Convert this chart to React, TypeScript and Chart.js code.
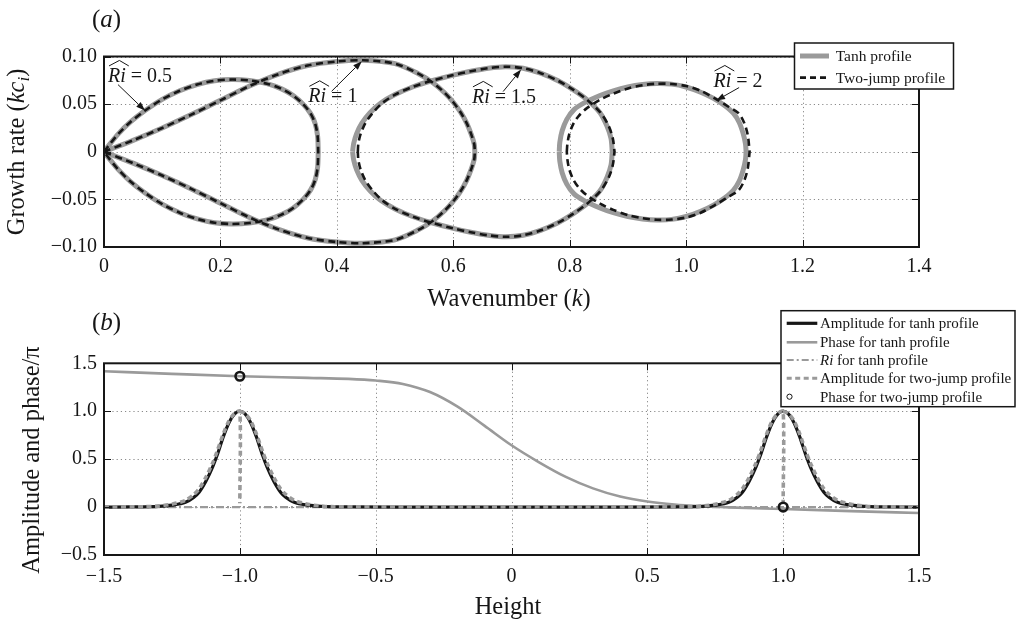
import React, { useEffect, useRef } from "react";
import { Chart, registerables } from "chart.js";

Chart.register(...registerables);

const SERIF = "'Liberation Serif', 'Times New Roman', 'DejaVu Serif', serif";
const GRAY = "#9a9a9a";
const INK = "#161616";

// ---------------- Panel (a): growth rate vs wavenumber ----------------
const kTicks = [0, 0.2, 0.4, 0.6, 0.8, 1.0, 1.2, 1.4];
const kTickLabels = ["0", "0.2", "0.4", "0.6", "0.8", "1.0", "1.2", "1.4"];
const growthTicks = [-0.1, -0.05, 0, 0.05, 0.1];
const growthTickLabels = ["\u22120.10", "\u22120.05", "0", "0.05", "0.10"];

// Ri = 0.5 (tanh and two-jump coincide)
const ri05K = [0, 0.01, 0.025, 0.045, 0.07, 0.1, 0.13, 0.16, 0.19, 0.22, 0.25, 0.28, 0.305, 0.325, 0.342, 0.355, 0.363, 0.367, 0.368];
const ri05Up = [0, 0.008, 0.019, 0.031, 0.043, 0.055, 0.064, 0.0705, 0.0745, 0.0758, 0.0748, 0.0715, 0.066, 0.059, 0.05, 0.04, 0.029, 0.016, 0];
const ri05Down = [0, -0.008, -0.019, -0.031, -0.043, -0.055, -0.064, -0.0705, -0.0745, -0.0758, -0.0748, -0.0715, -0.066, -0.059, -0.05, -0.04, -0.029, -0.016, 0];

// Ri = 1 (tanh and two-jump coincide)
const ri1K = [0, 0.05, 0.1, 0.15, 0.2, 0.25, 0.3, 0.35, 0.4, 0.445, 0.5, 0.54, 0.565, 0.585, 0.6, 0.613, 0.623, 0.631, 0.636, 0.637];
const ri1Up = [0, 0.012, 0.025, 0.039, 0.054, 0.069, 0.0815, 0.0905, 0.0948, 0.096, 0.0925, 0.082, 0.0725, 0.062, 0.052, 0.041, 0.03, 0.018, 0.008, 0];
const ri1Down = [0, -0.012, -0.025, -0.039, -0.054, -0.069, -0.0815, -0.0905, -0.0948, -0.096, -0.0925, -0.082, -0.0725, -0.062, -0.052, -0.041, -0.03, -0.018, -0.008, 0];

// Ri = 1.5
const ri15TanhK = [0.427, 0.429, 0.434, 0.443, 0.457, 0.475, 0.5, 0.53, 0.56, 0.6, 0.63, 0.66, 0.69, 0.72, 0.75, 0.78, 0.805, 0.83, 0.852, 0.864, 0.871, 0.873];
const ri15JumpK = [0.436, 0.437, 0.441, 0.449, 0.462, 0.478, 0.5, 0.53, 0.56, 0.6, 0.63, 0.66, 0.69, 0.72, 0.75, 0.78, 0.805, 0.83, 0.853, 0.867, 0.874, 0.877];
const ri15Up = [0, 0.009, 0.019, 0.03, 0.041, 0.051, 0.06, 0.068, 0.074, 0.0805, 0.0845, 0.0877, 0.0893, 0.0877, 0.0825, 0.0745, 0.0655, 0.0545, 0.041, 0.027, 0.014, 0];
const ri15Down = [0, -0.009, -0.019, -0.03, -0.041, -0.051, -0.06, -0.068, -0.074, -0.0805, -0.0845, -0.0877, -0.0893, -0.0877, -0.0825, -0.0745, -0.0655, -0.0545, -0.041, -0.027, -0.014, 0];

// Ri = 2
const ri2TanhK = [0.782, 0.783, 0.787, 0.795, 0.807, 0.824, 0.852, 0.875, 0.9, 0.925, 0.95, 0.975, 1.0, 1.025, 1.047, 1.066, 1.081, 1.091, 1.098, 1.102, 1.103];
const ri2TanhUp = [0, 0.01, 0.022, 0.034, 0.044, 0.051, 0.059, 0.064, 0.068, 0.0705, 0.0716, 0.071, 0.068, 0.0625, 0.056, 0.0485, 0.0405, 0.031, 0.019, 0.008, 0];
const ri2TanhDown = [0, -0.01, -0.022, -0.034, -0.044, -0.051, -0.059, -0.064, -0.068, -0.0705, -0.0716, -0.071, -0.068, -0.0625, -0.056, -0.0485, -0.0405, -0.031, -0.019, -0.008, 0];
const ri2JumpK = [0.795, 0.796, 0.799, 0.806, 0.816, 0.829, 0.852, 0.875, 0.9, 0.925, 0.95, 0.975, 1.0, 1.025, 1.053, 1.072, 1.09, 1.1, 1.106, 1.109];
const ri2JumpUp = [0, 0.008, 0.018, 0.029, 0.038, 0.0455, 0.0545, 0.061, 0.0665, 0.0698, 0.0714, 0.0712, 0.069, 0.064, 0.0547, 0.0475, 0.0405, 0.03, 0.017, 0];
const ri2JumpDown = [0, -0.008, -0.018, -0.029, -0.038, -0.0455, -0.0545, -0.061, -0.0665, -0.0698, -0.0714, -0.0712, -0.069, -0.064, -0.0547, -0.0475, -0.0405, -0.03, -0.017, 0];

// annotation labels (data coordinates)
const riLabels = ["0.5", "1", "1.5", "2"];
const riLabelAnchors = [[0.0069, 0.0733], [0.351, 0.0519], [0.632, 0.0513], [1.047, 0.068]];
const riArrowTails = [[0.024, 0.0705], [0.391, 0.0635], [0.6856, 0.0632], [1.091, 0.0674]];
const riArrowTips = [[0.0704, 0.0432], [0.443, 0.0951], [0.7165, 0.0863], [1.0515, 0.0537]];

// ---------------- Panel (b): amplitude and phase vs height ----------------
const hTicks = [-1.5, -1.0, -0.5, 0, 0.5, 1.0, 1.5];
const hTickLabels = ["\u22121.5", "\u22121.0", "\u22120.5", "0", "0.5", "1.0", "1.5"];
const apTicks = [-0.5, 0, 0.5, 1.0, 1.5];
const apTickLabels = ["\u22120.5", "0", "0.5", "1.0", "1.5"];

const ampTanhH = [-1.5, -1.4, -1.3, -1.25, -1.2, -1.17, -1.15, -1.125, -1.1, -1.085, -1.06, -1.04, -1.02, -1.0, -0.98, -0.96, -0.94, -0.915, -0.9, -0.875, -0.85, -0.83, -0.8, -0.75, -0.7, -0.6, -0.4, -0.2, 0, 0.2, 0.4, 0.6, 0.7, 0.75, 0.8, 0.83, 0.85, 0.875, 0.9, 0.915, 0.94, 0.96, 0.98, 1.0, 1.02, 1.04, 1.06, 1.085, 1.1, 1.125, 1.15, 1.17, 1.2, 1.25, 1.3, 1.4, 1.5];
const ampTanh = [0, 0.002, 0.008, 0.02, 0.05, 0.1, 0.155, 0.27, 0.42, 0.53, 0.74, 0.88, 0.97, 1.0, 0.97, 0.88, 0.74, 0.53, 0.42, 0.27, 0.155, 0.1, 0.05, 0.02, 0.008, 0.002, 0, 0, 0, 0, 0, 0.002, 0.008, 0.02, 0.05, 0.1, 0.155, 0.27, 0.42, 0.53, 0.74, 0.88, 0.97, 1.0, 0.97, 0.88, 0.74, 0.53, 0.42, 0.27, 0.155, 0.1, 0.05, 0.02, 0.008, 0.002, 0];

const phaseTanhH = [-1.5, -1.25, -1.0, -0.75, -0.6, -0.5, -0.4, -0.3, -0.2, -0.1, 0, 0.1, 0.2, 0.3, 0.4, 0.5, 0.6, 0.7, 0.8, 1.0, 1.25, 1.5];
const phaseTanh = [1.417, 1.39, 1.365, 1.348, 1.337, 1.32, 1.285, 1.2, 1.05, 0.85, 0.645, 0.47, 0.315, 0.195, 0.11, 0.058, 0.027, 0.009, -0.003, -0.02, -0.042, -0.062];

const riTanhH = [-1.5, -1.0, -0.5, 0, 0.5, 1.0, 1.5];
const riTanh = [0, 0, 0, 0, 0, 0, 0];

// null marks the break after each vertical jump
const ampJumpH = [-1.5, -1.35, -1.3, -1.25, -1.2, -1.17, -1.15, -1.125, -1.1, -1.085, -1.06, -1.04, -1.02, -1.0, -1.0, -1.0, -1.0, -0.98, -0.96, -0.94, -0.915, -0.9, -0.875, -0.85, -0.83, -0.8, -0.75, -0.7, -0.65, 0.65, 0.7, 0.75, 0.8, 0.83, 0.85, 0.875, 0.9, 0.915, 0.94, 0.96, 0.98, 1.0, 1.0, 1.0, 1.0, 1.02, 1.04, 1.06, 1.085, 1.1, 1.125, 1.15, 1.17, 1.2, 1.25, 1.3, 1.35, 1.5];
const ampJump = [0, 0.004, 0.01, 0.03, 0.07, 0.13, 0.19, 0.31, 0.46, 0.57, 0.77, 0.9, 0.975, 1.0, 0.04, null, 1.0, 0.975, 0.9, 0.77, 0.57, 0.46, 0.31, 0.19, 0.13, 0.07, 0.03, 0.01, 0.004, 0.004, 0.01, 0.03, 0.07, 0.13, 0.19, 0.31, 0.46, 0.57, 0.77, 0.9, 0.975, 1.0, 0.04, null, 1.0, 0.975, 0.9, 0.77, 0.57, 0.46, 0.31, 0.19, 0.13, 0.07, 0.03, 0.01, 0.004, 0];

const phaseJumpH = [-1.0, 1.0];
const phaseJump = [1.365, 0];

// ---------------- helpers ----------------
type Part = { t: string; it?: boolean; sz: number; dy?: number };

function setFont(ctx: CanvasRenderingContext2D, p: Part) {
  ctx.font = `${p.it ? "italic " : ""}${p.sz}px ${SERIF}`;
}
function measureParts(ctx: CanvasRenderingContext2D, parts: Part[]) {
  let w = 0;
  for (const p of parts) {
    setFont(ctx, p);
    w += ctx.measureText(p.t).width;
  }
  return w;
}
function drawParts(ctx: CanvasRenderingContext2D, parts: Part[], x: number, y: number, align: "left" | "center" = "left") {
  let cx = align === "center" ? x - measureParts(ctx, parts) / 2 : x;
  ctx.textAlign = "left";
  ctx.textBaseline = "alphabetic";
  ctx.fillStyle = INK;
  for (const p of parts) {
    setFont(ctx, p);
    ctx.fillText(p.t, cx, y + (p.dy ?? 0));
    cx += ctx.measureText(p.t).width;
  }
}
function seg(ctx: CanvasRenderingContext2D, x1: number, y1: number, x2: number, y2: number) {
  ctx.beginPath();
  ctx.moveTo(x1, y1);
  ctx.lineTo(x2, y2);
  ctx.stroke();
}
function zip(xs: number[], ys: (number | null)[]) {
  return xs.map((x, i) => ({ x, y: ys[i] }));
}
function loop(k: number[], up: number[], down: number[]) {
  const pts = k.map((x, i) => ({ x, y: up[i] }));
  for (let i = k.length - 1; i >= 0; i--) pts.push({ x: k[i], y: down[i] });
  return pts;
}

function gridPlugin() {
  return {
    id: "dottedGrid",
    beforeDatasetsDraw(chart: any) {
      const { ctx, chartArea: a, scales } = chart;
      ctx.save();
      ctx.strokeStyle = "#8a8a8a";
      ctx.lineWidth = 1;
      ctx.setLineDash([1.2, 3]);
      for (const t of scales.x.ticks) {
        const px = Math.round(scales.x.getPixelForValue(t.value)) + 0.5;
        seg(ctx, px, a.top, px, a.bottom);
      }
      for (const t of scales.y.ticks) {
        const py = Math.round(scales.y.getPixelForValue(t.value)) + 0.5;
        seg(ctx, a.left, py, a.right, py);
      }
      ctx.restore();
    },
  };
}

function drawFrame(chart: any) {
  const { ctx, chartArea: a, scales } = chart;
  ctx.save();
  ctx.setLineDash([]);
  ctx.strokeStyle = INK;
  ctx.lineWidth = 1;
  const L = 7;
  for (const t of scales.x.ticks) {
    const px = Math.round(scales.x.getPixelForValue(t.value)) + 0.5;
    seg(ctx, px, a.bottom, px, a.bottom - L);
    seg(ctx, px, a.top, px, a.top + L);
  }
  for (const t of scales.y.ticks) {
    const py = Math.round(scales.y.getPixelForValue(t.value)) + 0.5;
    seg(ctx, a.left, py, a.left + L, py);
    seg(ctx, a.right, py, a.right - L, py);
  }
  ctx.lineWidth = 2;
  ctx.strokeRect(a.left, a.top, a.right - a.left, a.bottom - a.top);
  ctx.restore();
}

function arrow(ctx: CanvasRenderingContext2D, x1: number, y1: number, x2: number, y2: number) {
  ctx.save();
  ctx.strokeStyle = INK;
  ctx.fillStyle = INK;
  ctx.lineWidth = 1;
  const ang = Math.atan2(y2 - y1, x2 - x1);
  const hl = 9;
  const hw = 3.2;
  const bx = x2 - hl * Math.cos(ang);
  const by = y2 - hl * Math.sin(ang);
  seg(ctx, x1, y1, bx, by);
  ctx.beginPath();
  ctx.moveTo(x2, y2);
  ctx.lineTo(bx + hw * Math.sin(ang), by - hw * Math.cos(ang));
  ctx.lineTo(bx - hw * Math.sin(ang), by + hw * Math.cos(ang));
  ctx.closePath();
  ctx.fill();
  ctx.restore();
}

function drawRiLabel(ctx: CanvasRenderingContext2D, x: number, y: number, val: string) {
  const sz = 20;
  const riPart: Part = { t: "Ri", it: true, sz };
  drawParts(ctx, [riPart, { t: " = " + val, sz }], x, y);
  const w = measureParts(ctx, [riPart]);
  ctx.save();
  ctx.strokeStyle = INK;
  ctx.lineWidth = 1;
  ctx.beginPath();
  ctx.moveTo(x + 1, y - 16);
  ctx.lineTo(x + w / 2 + 2.5, y - 21.5);
  ctx.lineTo(x + w + 3, y - 16);
  ctx.stroke();
  ctx.restore();
}

function legendBox(ctx: CanvasRenderingContext2D, x1: number, y1: number, x2: number, y2: number) {
  ctx.save();
  ctx.fillStyle = "#ffffff";
  ctx.fillRect(x1, y1, x2 - x1, y2 - y1);
  ctx.strokeStyle = INK;
  ctx.lineWidth = 1.5;
  ctx.setLineDash([]);
  ctx.strokeRect(x1, y1, x2 - x1, y2 - y1);
  ctx.restore();
}

function sampleLine(ctx: CanvasRenderingContext2D, x1: number, x2: number, y: number, color: string, width: number, dash: number[]) {
  ctx.save();
  ctx.strokeStyle = color;
  ctx.lineWidth = width;
  ctx.setLineDash(dash);
  ctx.lineCap = "butt";
  seg(ctx, x1, y, x2, y);
  ctx.restore();
}

const decorA = {
  id: "decorA",
  afterDatasetsDraw(chart: any) {
    const { ctx, scales } = chart;
    drawFrame(chart);
    const X = (v: number) => scales.x.getPixelForValue(v);
    const Y = (v: number) => scales.y.getPixelForValue(v);
    riLabels.forEach((lab, i) => {
      drawRiLabel(ctx, X(riLabelAnchors[i][0]), Y(riLabelAnchors[i][1]), lab);
      arrow(ctx, X(riArrowTails[i][0]), Y(riArrowTails[i][1]), X(riArrowTips[i][0]), Y(riArrowTips[i][1]));
    });
    drawParts(ctx, [{ t: "(", sz: 25 }, { t: "a", it: true, sz: 25 }, { t: ")", sz: 25 }], 92, 27);
    drawParts(ctx, [{ t: "Wavenumber (", sz: 24.5 }, { t: "k", it: true, sz: 24.5 }, { t: ")", sz: 24.5 }], 509, 306, "center");
    ctx.save();
    ctx.translate(24, 152);
    ctx.rotate(-Math.PI / 2);
    drawParts(
      ctx,
      [
        { t: "Growth rate (", sz: 24.5 },
        { t: "kc", it: true, sz: 24.5 },
        { t: "i", it: true, sz: 17, dy: 5 },
        { t: ")", sz: 24.5 },
      ],
      0,
      0,
      "center"
    );
    ctx.restore();
    legendBox(ctx, 794.5, 43, 953.5, 89);
    sampleLine(ctx, 800, 829, 56, GRAY, 5, []);
    sampleLine(ctx, 800, 829, 77.6, INK, 2.6, [6, 4]);
    drawParts(ctx, [{ t: "Tanh profile", sz: 15.5 }], 835.7, 61.2);
    drawParts(ctx, [{ t: "Two-jump profile", sz: 15.5 }], 835.7, 82.8);
  },
};

const decorB = {
  id: "decorB",
  afterDatasetsDraw(chart: any) {
    const { ctx } = chart;
    drawFrame(chart);
    drawParts(ctx, [{ t: "(", sz: 25 }, { t: "b", it: true, sz: 25 }, { t: ")", sz: 25 }], 92, 30);
    drawParts(ctx, [{ t: "Height", sz: 24.5 }], 508, 314, "center");
    ctx.save();
    ctx.translate(39, 160);
    ctx.rotate(-Math.PI / 2);
    drawParts(ctx, [{ t: "Amplitude and phase/\u03c0", sz: 24.5 }], 0, 0, "center");
    ctx.restore();
    legendBox(ctx, 781, 10.7, 1015, 106.7);
    const rows = [23.3, 42.3, 60, 78.3, 96.7];
    sampleLine(ctx, 786.7, 817.3, rows[0], INK, 3.2, []);
    sampleLine(ctx, 786.7, 817.3, rows[1], GRAY, 2.6, []);
    sampleLine(ctx, 786.7, 817.3, rows[2], GRAY, 2, [7, 3, 2, 3]);
    sampleLine(ctx, 786.7, 817.3, rows[3], GRAY, 3, [5, 3.5]);
    ctx.save();
    ctx.strokeStyle = INK;
    ctx.lineWidth = 1;
    ctx.beginPath();
    ctx.arc(789.5, rows[4], 2.6, 0, Math.PI * 2);
    ctx.stroke();
    ctx.restore();
    const sz = 15;
    drawParts(ctx, [{ t: "Amplitude for tanh profile", sz }], 820, rows[0] + 5);
    drawParts(ctx, [{ t: "Phase for tanh profile", sz }], 820, rows[1] + 5);
    drawParts(ctx, [{ t: "Ri", it: true, sz }, { t: " for tanh profile", sz }], 820, rows[2] + 5);
    drawParts(ctx, [{ t: "Amplitude for two-jump profile", sz }], 820, rows[3] + 5);
    drawParts(ctx, [{ t: "Phase for two-jump profile", sz }], 820, rows[4] + 5);
  },
};

function axis(min: number, max: number, values: number[], labels: string[], opts: { width?: number; height?: number; padding: number }) {
  return {
    type: "linear",
    min,
    max,
    afterBuildTicks: (s: any) => {
      s.ticks = values.map((v) => ({ value: v }));
    },
    afterFit: (s: any) => {
      if (opts.width !== undefined) s.width = opts.width;
      if (opts.height !== undefined) s.height = opts.height;
    },
    grid: { display: false, drawTicks: false, tickLength: 0 },
    border: { display: false },
    ticks: {
      padding: opts.padding,
      color: INK,
      autoSkip: false,
      maxRotation: 0,
      minRotation: 0,
      font: { family: SERIF, size: 20 },
      callback: (_v: any, i: number) => labels[i],
    },
  };
}

const basePlugins = {
  legend: { display: false },
  tooltip: { enabled: false },
  title: { display: false },
};

function configA(): any {
  const gray = (data: any) => ({ data, showLine: true, borderColor: GRAY, borderWidth: 5, pointRadius: 0, tension: 0.3, fill: false, order: 2, borderJoinStyle: "round" });
  const dash = (data: any) => ({ data, showLine: true, borderColor: INK, borderWidth: 2.6, borderDash: [7, 4.5], pointRadius: 0, tension: 0.3, fill: false, order: 1 });
  return {
    type: "scatter",
    data: {
      datasets: [
        { label: "Tanh profile", ...gray(loop(ri05K, ri05Up, ri05Down)) },
        { label: "Tanh profile Ri=1", ...gray(loop(ri1K, ri1Up, ri1Down)) },
        { label: "Tanh profile Ri=1.5", ...gray(loop(ri15TanhK, ri15Up, ri15Down)) },
        { label: "Tanh profile Ri=2", ...gray(loop(ri2TanhK, ri2TanhUp, ri2TanhDown)) },
        { label: "Two-jump profile", ...dash(loop(ri05K, ri05Up, ri05Down)) },
        { label: "Two-jump profile Ri=1", ...dash(loop(ri1K, ri1Up, ri1Down)) },
        { label: "Two-jump profile Ri=1.5", ...dash(loop(ri15JumpK, ri15Up, ri15Down)) },
        { label: "Two-jump profile Ri=2", ...dash(loop(ri2JumpK, ri2JumpUp, ri2JumpDown)) },
      ],
    },
    options: {
      responsive: false,
      animation: false,
      devicePixelRatio: 1,
      events: [],
      layout: { padding: { left: 0, right: 106, top: 56.5, bottom: 0 } },
      plugins: basePlugins,
      scales: {
        x: axis(0, 1.4, kTicks, kTickLabels, { height: 68, padding: 8 }),
        y: axis(-0.1, 0.1, growthTicks, growthTickLabels, { width: 104, padding: 7 }),
      },
    },
    plugins: [gridPlugin(), decorA],
  };
}

function configB(): any {
  return {
    type: "scatter",
    data: {
      datasets: [
        { label: "Phase for two-jump profile", data: zip(phaseJumpH, phaseJump), showLine: false, pointRadius: 4.3, pointBorderWidth: 2.6, pointBorderColor: INK, pointBackgroundColor: "rgba(0,0,0,0)", order: 1 },
        { label: "Amplitude for two-jump profile", data: zip(ampJumpH, ampJump), showLine: true, spanGaps: false, borderColor: GRAY, borderWidth: 3.6, borderDash: [5, 3.5], pointRadius: 0, tension: 0.25, order: 2 },
        { label: "Amplitude for tanh profile", data: zip(ampTanhH, ampTanh), showLine: true, borderColor: INK, borderWidth: 3.2, pointRadius: 0, cubicInterpolationMode: "monotone", order: 3 },
        { label: "Ri for tanh profile", data: zip(riTanhH, riTanh), showLine: true, borderColor: GRAY, borderWidth: 2.4, borderDash: [8, 3, 2, 3], pointRadius: 0, order: 4 },
        { label: "Phase for tanh profile", data: zip(phaseTanhH, phaseTanh), showLine: true, borderColor: GRAY, borderWidth: 2.6, pointRadius: 0, cubicInterpolationMode: "monotone", order: 5 },
      ],
    },
    options: {
      responsive: false,
      animation: false,
      devicePixelRatio: 1,
      events: [],
      layout: { padding: { left: 0, right: 106, top: 63.3, bottom: 0 } },
      plugins: basePlugins,
      scales: {
        x: axis(-1.5, 1.5, hTicks, hTickLabels, { height: 70, padding: 10 }),
        y: axis(-0.5, 1.5, apTicks, apTickLabels, { width: 104, padding: 7 }),
      },
    },
    plugins: [gridPlugin(), decorB],
  };
}

export default function App() {
  const refA = useRef<HTMLCanvasElement>(null);
  const refB = useRef<HTMLCanvasElement>(null);
  useEffect(() => {
    const a = new Chart(refA.current as HTMLCanvasElement, configA());
    const b = new Chart(refB.current as HTMLCanvasElement, configB());
    return () => {
      a.destroy();
      b.destroy();
    };
  }, []);
  return (
    <div style={{ position: "absolute", left: 0, top: 0, width: 1025, height: 625, background: "#ffffff", overflow: "hidden" }}>
      <canvas ref={refA} width={1025} height={315} style={{ position: "absolute", left: 0, top: 0, width: 1025, height: 315 }} />
      <canvas ref={refB} width={1025} height={325} style={{ position: "absolute", left: 0, top: 300, width: 1025, height: 325 }} />
    </div>
  );
}
